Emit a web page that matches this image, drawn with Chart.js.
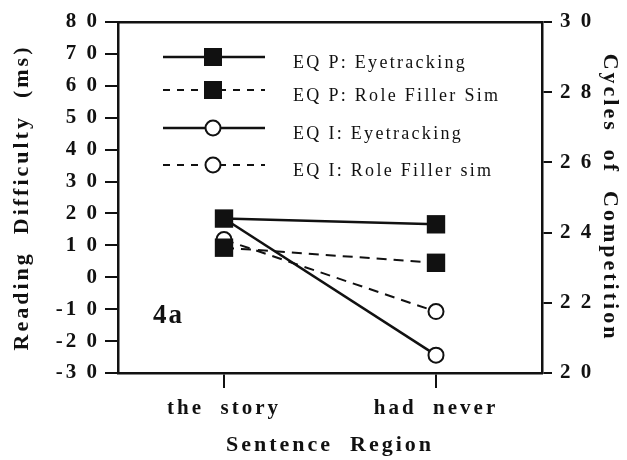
<!DOCTYPE html>
<html>
<head>
<meta charset="utf-8">
<script src="https://cdn.jsdelivr.net/npm/chart.js@4.4.1/dist/chart.umd.min.js"></script>
<style>
  html, body { margin: 0; padding: 0; background: #fff; }
  #contenedor { width: 627px; height: 460px; }
</style>
</head>
<body>
<div id="contenedor"><canvas id="grafica"></canvas></div>
<script>
const REGIONES = ['the  story', 'had  never'];
const NOMBRES = ['EQ P: Eyetracking', 'EQ P: Role Filler Sim', 'EQ I: Eyetracking', 'EQ I: Role Filler sim'];
// lectura en ms (eje izquierdo)
const EQP_OJOS = [18.4, 16.6];
const EQI_OJOS = [18.4, -24.4];
// ciclos de competencia (eje derecho)
const EQP_SIM = [23.57, 23.14];
const EQI_SIM = [23.8, 21.75];
const TICKS_MS = [-30, -20, -10, 0, 10, 20, 30, 40, 50, 60, 70, 80];
const TICKS_CICLOS = [20, 22, 24, 26, 28, 30];

const NEGRO = '#111';
const FUENTE = "'Liberation Serif', 'Times New Roman', serif";

Chart.defaults.font.family = FUENTE;
Chart.defaults.color = NEGRO;

// el original tiene las letras muy separadas
const espaciado = {
    id: 'espaciado',
    beforeLayout(chart) { chart.ctx.letterSpacing = '3px'; },
    beforeDraw(chart) { chart.ctx.letterSpacing = '3px'; }
};

// los números del original van con un hueco entre cifras ("8 0")
const separarCifras = v => String(v).replace(/(\d)(?=\d)/g, '$1\u2009');

const leyenda = {
    id: 'leyenda',
    afterDraw(chart) {
        const { ctx, chartArea } = chart;
        const filas = [35, 68, 106, 143];
        ctx.save();
        chart.data.datasets.forEach((ds, i) => {
            const y = chartArea.top + filas[i];
            const x0 = chartArea.left + 45;
            const x1 = chartArea.left + 147;
            const xm = chartArea.left + 95;
            ctx.strokeStyle = NEGRO;
            ctx.lineWidth = ds.borderWidth;
            ctx.setLineDash(ds.borderDash ? [7, 7] : []);
            ctx.beginPath();
            ctx.moveTo(x0, y);
            ctx.lineTo(x1, y);
            ctx.stroke();
            ctx.setLineDash([]);
            ctx.fillStyle = ds.pointBackgroundColor;
            if (ds.pointStyle === 'rect') {
                ctx.fillRect(xm - 9, y - 9, 18, 18);
            } else {
                ctx.lineWidth = ds.pointBorderWidth;
                ctx.beginPath();
                ctx.arc(xm, y, ds.pointRadius, 0, Math.PI * 2);
                ctx.fill();
                ctx.stroke();
            }
            ctx.fillStyle = NEGRO;
            ctx.font = `18px ${FUENTE}`;
            ctx.letterSpacing = '2.3px';
            ctx.textAlign = 'left';
            ctx.textBaseline = 'alphabetic';
            ctx.fillText(ds.label, chartArea.left + 175, y + 11);
        });
        ctx.font = `bold 27px ${FUENTE}`;
        ctx.letterSpacing = '2px';
        ctx.fillText('4a', chartArea.left + 35, chartArea.top + 301);
        ctx.restore();
    }
};

function serieOjos(label, data, estilo) {
    return {
        label, data, yAxisID: 'y',
        borderColor: NEGRO, borderWidth: 2.5,
        ...estilo
    };
}

function serieSim(label, data, estilo) {
    return {
        label, data, yAxisID: 'y1',
        borderColor: NEGRO, borderWidth: 2, borderDash: [10, 7],
        ...estilo
    };
}

const cuadro = { pointStyle: 'rect', pointRadius: 13, pointBackgroundColor: NEGRO, pointBorderWidth: 0 };
const circulo = { pointStyle: 'circle', pointRadius: 7.5, pointBackgroundColor: '#fff', pointBorderColor: NEGRO, pointBorderWidth: 2 };

new Chart(document.getElementById('grafica'), {
    type: 'line',
    data: {
        labels: REGIONES,
        datasets: [
            serieOjos(NOMBRES[0], EQP_OJOS, cuadro),
            serieSim(NOMBRES[1], EQP_SIM, cuadro),
            serieOjos(NOMBRES[2], EQI_OJOS, circulo),
            serieSim(NOMBRES[3], EQI_SIM, circulo)
        ]
    },
    options: {
        responsive: true,
        maintainAspectRatio: false,
        animation: false,
        layout: { padding: 0 },
        plugins: { legend: { display: false }, tooltip: { enabled: false } },
        scales: {
            x: {
                type: 'category',
                offset: true,
                grid: { offset: false, drawOnChartArea: false, tickLength: 15, color: NEGRO, lineWidth: 2 },
                border: { color: NEGRO, width: 2.5 },
                ticks: { color: NEGRO, font: { size: 21, weight: 'bold' }, padding: 8, maxRotation: 0 },
                title: { display: true, text: 'Sentence  Region', color: NEGRO, font: { size: 22, weight: 'bold' }, padding: { top: 0, bottom: 1 } },
                afterFit(s) { s.height = 87; }
            },
            arriba: {
                type: 'linear',
                position: 'top',
                ticks: { display: false },
                grid: { display: false, drawTicks: false },
                border: { color: NEGRO, width: 2.5 },
                afterFit(s) { s.height = 22; }
            },
            y: {
                position: 'left',
                min: TICKS_MS[0],
                max: TICKS_MS[TICKS_MS.length - 1],
                afterBuildTicks(s) { s.ticks = TICKS_MS.map(v => ({ value: v })); },
                grid: { drawOnChartArea: false, tickLength: 13, color: NEGRO, lineWidth: 2 },
                border: { color: NEGRO, width: 2.5 },
                ticks: { color: NEGRO, font: { size: 21, weight: 'bold' }, padding: 5, callback: separarCifras },
                title: { display: true, text: 'Reading  Difficulty  (ms)', color: NEGRO, font: { size: 22, weight: 'bold' }, padding: { top: 9, bottom: 0 } },
                afterFit(s) { s.width = 118; }
            },
            y1: {
                position: 'right',
                min: TICKS_CICLOS[0],
                max: TICKS_CICLOS[TICKS_CICLOS.length - 1],
                afterBuildTicks(s) { s.ticks = TICKS_CICLOS.map(v => ({ value: v })); },
                grid: { drawOnChartArea: false, tickLength: 10, color: NEGRO, lineWidth: 2 },
                border: { color: NEGRO, width: 2.5 },
                ticks: { color: NEGRO, font: { size: 21, weight: 'bold' }, padding: 8, callback: separarCifras },
                title: { display: true, text: 'Cycles  of  Competition', color: NEGRO, font: { size: 22, weight: 'bold' }, padding: { top: 4, bottom: 0 } },
                afterFit(s) { s.width = 85; }
            }
        }
    },
    plugins: [espaciado, leyenda]
});
</script>
</body>
</html>
